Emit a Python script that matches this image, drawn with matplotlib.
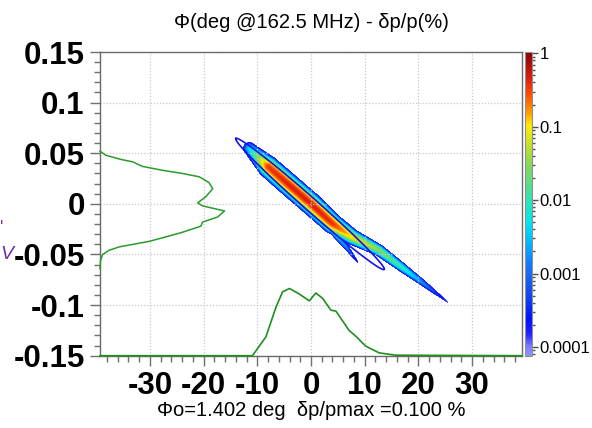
import numpy as np
import matplotlib
matplotlib.use('Agg')
import matplotlib.pyplot as plt
from matplotlib.colors import LogNorm, LinearSegmentedColormap
from matplotlib.ticker import MultipleLocator, LogLocator, NullFormatter

plt.rcParams['font.family'] = ['Liberation Sans', 'DejaVu Sans']
plt.rcParams['axes.unicode_minus'] = False

# axis ranges
x_lim = (-39.3, 39.3)
y_lim = (-0.15, 0.15)
x_major = [-30, -20, -10, 0, 10, 20, 30]
y_major = [-0.15, -0.1, -0.05, 0, 0.05, 0.1, 0.15]
y_labels = ['-0.15', '-0.1', '-0.05', '0', '0.05', '0.1', '0.15']
cb_ticks = [1, 0.1, 0.01, 0.001, 0.0001]
cb_labels = ['1', '0.1', '0.01', '0.001', '0.0001']

# main beam streak (ridge): position, peak density, width in px
core_x = [-11.5, -8.0, -4.0, 0.0, 4.0, 7.7, 12.7, 17.0, 21.0, 25.5]
core_y = [0.0550, 0.0370, 0.0185, 0.0002, -0.0194, -0.0326, -0.0458, -0.0628, -0.0786, -0.0970]
core_peak = [0.004, 0.35, 0.45, 0.45, 0.38, 0.1, 0.03, 0.01, 0.0015, 0.00012]
core_sig = [2.4, 2.8, 2.8, 2.8, 2.6, 2.2, 1.8, 1.6, 1.4, 1.1]

# lower side branch
branch_x = [1.5, 4.0, 6.5, 8.7]
branch_y = [-0.0105, -0.0265, -0.0420, -0.0575]
branch_peak = [0.01, 0.005, 0.0015, 0.00015]
branch_sig = [1.5, 1.4, 1.2, 1.0]

# emittance ellipse: the two tips, semi-minor axis in px
ell_tip1 = (-14.0, 0.0646)
ell_tip2 = (13.65, -0.0648)
ell_minor_px = 6.5

# projections (green)
left_x = [-39.3, -38.2, -35.5, -33.2, -31.4, -27.5, -23.9, -20.8, -19.0, -18.3, -19.6,
          -21.1, -20.2, -16.1, -17.4, -20.2, -20.5, -23.9, -27.0, -30.1, -35.7, -37.6,
          -38.8, -39.2, -39.3]
left_y = [0.052, 0.048, 0.044, 0.0415, 0.037, 0.033, 0.030, 0.0267, 0.021, 0.015, 0.007,
          0.001, -0.002, -0.007, -0.013, -0.018, -0.022, -0.028, -0.0326, -0.037, -0.0425,
          -0.0458, -0.050, -0.056, -0.064]
bottom_x = [-39.3, -10.9, -8.4, -6.5, -5.3, -4.0, -2.2, -0.3, 0.9, 2.2, 3.7, 4.65, 7.1,
            8.4, 10.2, 12.7, 15.8, 39.3]
bottom_y = [-0.15, -0.15, -0.1314, -0.1018, -0.087, -0.0836, -0.089, -0.0958, -0.088,
            -0.0935, -0.105, -0.106, -0.125, -0.131, -0.1406, -0.1472, -0.1495, -0.15]

# jet-like colour scale (bottom -> top)
cmap_stops = [(0.0, '#9090ff'), (0.03, '#7c7cff'), (0.07, '#2020ff'), (0.12, '#0010ff'),
              (0.19, '#1040f0'), (0.26, '#1864f0'), (0.31, '#1080ff'), (0.37, '#00b8ff'),
              (0.44, '#00e8f0'), (0.50, '#20e8c0'), (0.55, '#50e090'), (0.62, '#80d860'),
              (0.69, '#c0e030'), (0.76, '#ffee00'), (0.80, '#ffa000'), (0.86, '#ff5000'),
              (0.91, '#e02010'), (1.0, '#8b0000')]
cmap = LinearSegmentedColormap.from_list('beam', cmap_stops)
cmap.set_bad('white', 0)

# pixel scale of the axes (px per data unit)
SX = 422 / (x_lim[1] - x_lim[0])
SY = 303.7 / (y_lim[1] - y_lim[0])

gx = np.linspace(x_lim[0], x_lim[1], 422)
gy = np.linspace(y_lim[0], y_lim[1], 304)
X, Y = np.meshgrid(gx, gy)
PX, PY = X * SX, Y * SY


def streak(xs, ys, peaks, sigs):
    out = np.zeros_like(PX)
    for i in range(len(xs) - 1):
        ax0, ay0 = xs[i] * SX, ys[i] * SY
        dx, dy = xs[i + 1] * SX - ax0, ys[i + 1] * SY - ay0
        t = np.clip(((PX - ax0) * dx + (PY - ay0) * dy) / (dx * dx + dy * dy), 0, 1)
        d2 = (PX - ax0 - t * dx) ** 2 + (PY - ay0 - t * dy) ** 2
        pk = np.exp(np.log(peaks[i]) * (1 - t) + np.log(peaks[i + 1]) * t)
        sg = sigs[i] * (1 - t) + sigs[i + 1] * t
        out = np.maximum(out, pk * np.exp(-d2 / (2 * sg ** 2)))
    return out


dens = np.maximum(streak(core_x, core_y, core_peak, core_sig),
                  streak(branch_x, branch_y, branch_peak, branch_sig))
dens = np.ma.masked_less(dens, 1e-4)

fig = plt.figure(figsize=(5.92, 4.28), dpi=100)
ax = fig.add_axes([0.1689, 0.1689, 0.7128, 0.7096])

im = ax.imshow(dens, origin='lower', extent=[x_lim[0], x_lim[1], y_lim[0], y_lim[1]],
               aspect='auto', interpolation='nearest', cmap=cmap,
               norm=LogNorm(vmin=7.6e-5, vmax=1.04), zorder=1)

# ellipse
c = np.array([(ell_tip1[0] + ell_tip2[0]) / 2 * SX, (ell_tip1[1] + ell_tip2[1]) / 2 * SY])
a = np.array([ell_tip1[0] * SX, ell_tip1[1] * SY]) - c
b = np.array([-a[1], a[0]]) / np.hypot(*a) * ell_minor_px
th = np.linspace(0, 2 * np.pi, 300)
ex = (c[0] + a[0] * np.cos(th) + b[0] * np.sin(th)) / SX
ey = (c[1] + a[1] * np.cos(th) + b[1] * np.sin(th)) / SY
ax.plot(ex, ey, color='#1414e6', lw=1.2, zorder=3)

ax.plot(left_x, left_y, color='#2c9a2c', lw=1.1, zorder=4, clip_on=False)
ax.plot(bottom_x, bottom_y, color='#1f8f1f', lw=1.2, zorder=4, clip_on=False)

ax.set_xlim(x_lim)
ax.set_ylim(y_lim)
ax.set_xticks(x_major)
ax.set_xticklabels([str(v) for v in x_major])
ax.set_yticks(y_major)
ax.set_yticklabels(y_labels)
ax.xaxis.set_minor_locator(MultipleLocator(2))
ax.yaxis.set_minor_locator(MultipleLocator(0.01))
ax.tick_params(which='major', direction='out', length=7, width=1, color='#707070',
               labelsize=22.5, pad=4)
ax.tick_params(which='minor', direction='out', length=4, width=1, color='#707070')
for lab in ax.get_xticklabels() + ax.get_yticklabels():
    lab.set_fontweight('bold')
ax.grid(True, which='major', color='#c8c8c8', linestyle=(0, (1, 1.5)), lw=0.9)
for s in ax.spines.values():
    s.set_color('#6a6a6a')
    s.set_linewidth(1)

cax = fig.add_axes([0.8868, 0.1689, 0.0113, 0.7096])
cb = fig.colorbar(im, cax=cax)
cb.set_ticks(cb_ticks)
cb.set_ticklabels(cb_labels)
cb.ax.yaxis.set_minor_locator(LogLocator(subs=np.arange(2, 10)))
cb.ax.yaxis.set_minor_formatter(NullFormatter())
cb.ax.tick_params(which='major', length=4, width=1, color='#505050', labelsize=12, pad=1.5)
cb.ax.tick_params(which='minor', length=2.5, width=1, color='#505050')
cb.outline.set_edgecolor('#909090')
cb.outline.set_linewidth(0.8)

fig.text(0.526, 0.948, 'Φ(deg @162.5 MHz) - δp/p(%)', ha='center', va='center', fontsize=14.5)
fig.text(0.526, 0.042, 'Φo=1.402 deg  δp/pmax =0.100 %', ha='center', va='center', fontsize=14.5)
fig.text(0.0, 0.405, 'V', color='#7030a0', style='italic', fontsize=14, ha='left', va='center')
fig.text(0.0, 0.465, "'", color='#7030a0', fontsize=13, ha='left', va='center')

fig.savefig('out.png', dpi=100)
